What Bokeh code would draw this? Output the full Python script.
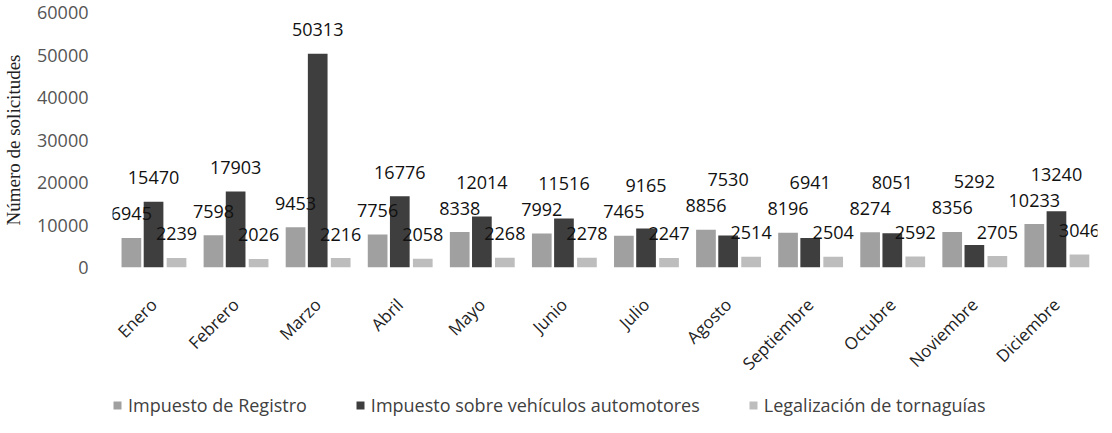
import math
from bokeh.plotting import figure
from bokeh.layouts import column
from bokeh.models import ColumnDataSource, FactorRange, Legend, LegendItem, LabelSet
from bokeh.core.properties import value
from bokeh.transform import dodge
from bokeh.embed import file_html
from bokeh.resources import INLINE

months = ["Enero", "Febrero", "Marzo", "Abril", "Mayo", "Junio", "Julio",
          "Agosto", "Septiembre", "Octubre", "Noviembre", "Diciembre"]
registro = [6945, 7598, 9453, 7756, 8338, 7992, 7465, 8856, 8196, 8274, 8356, 10233]
vehiculos = [15470, 17903, 50313, 16776, 12014, 11516, 9165, 7530, 6941, 8051, 5292, 13240]
tornaguias = [2239, 2026, 2216, 2058, 2268, 2278, 2247, 2514, 2504, 2592, 2705, 3046]
series_names = ["Impuesto de Registro", "Impuesto sobre vehículos automotores",
                "Legalización de tornaguías"]
y_ticks = [0, 10000, 20000, 30000, 40000, 50000, 60000]

Y_MAX = 60000
FRAME_H = 255
px = Y_MAX / FRAME_H  # data units per screen pixel

# label anchors: the middle series' labels are lifted so they clear the first series' labels
lab_vehiculos = [max(v, r + 26 * px) for v, r in zip(vehiculos, registro)]

src = ColumnDataSource(dict(
    months=months, registro=registro, vehiculos=vehiculos, tornaguias=tornaguias,
    y_registro=registro, y_vehiculos=lab_vehiculos, y_tornaguias=tornaguias,
    l_registro=[str(v) for v in registro],
    l_vehiculos=[str(v) for v in vehiculos],
    l_tornaguias=[str(v) for v in tornaguias],
))

p = figure(x_range=FactorRange(*months, range_padding=0), y_range=(0, Y_MAX),
           frame_width=985, frame_height=FRAME_H, output_backend="svg", toolbar_location=None,
           min_border_left=106, min_border_right=5, min_border_top=12,
           min_border_bottom=118, background_fill_color="white",
           border_fill_color="white")
p.outline_line_color = None
p.grid.visible = False

colors = ["#a0a0a0", "#3e3e3e", "#bdbdbd"]
fields = ["registro", "vehiculos", "tornaguias"]
offsets = [-0.27, 0.0, 0.28]
for f, c, o in zip(fields, colors, offsets):
    p.vbar(x=dodge("months", o, range=p.x_range), top=f, width=0.24,
           source=src, fill_color=c, line_color=None)
    lbl = LabelSet(x=dodge("months", o, range=p.x_range), y="y_" + f, text="l_" + f,
                   source=src, text_align="center", text_baseline="middle",
                   y_offset=24, text_font=value("Open Sans"), text_font_size="18px",
                   text_color="#111111")
    p.add_layout(lbl)

# axes
p.yaxis.ticker = y_ticks
p.yaxis.axis_line_color = None
p.yaxis.major_tick_line_color = None
p.yaxis.minor_tick_line_color = None
p.yaxis.major_label_text_font = "Open Sans"
p.yaxis.major_label_text_font_size = "18px"
p.yaxis.major_label_text_color = "#555555"
p.yaxis.major_label_standoff = 18
p.yaxis.axis_label = "Número de solicitudes"
p.yaxis.axis_label_text_font = "Liberation Serif"
p.yaxis.axis_label_text_font_style = "normal"
p.yaxis.axis_label_text_font_size = "19px"
p.yaxis.axis_label_text_color = "#222222"
p.yaxis.axis_label_standoff = 10

p.xaxis.axis_line_color = None
p.xaxis.major_tick_line_color = None
p.xaxis.minor_tick_line_color = None
p.xaxis.major_label_orientation = math.pi / 4
p.xaxis.major_label_text_font = "Open Sans"
p.xaxis.major_label_text_font_size = "17px"
p.xaxis.major_label_text_color = "#222222"
p.xaxis.major_label_standoff = 28

# legend in a thin strip below the chart (its frame aligns with the chart's frame)
lp = figure(width=1096, height=32, x_range=(0, 1), y_range=(0, 1),
            output_backend="svg", toolbar_location=None, min_border=0,
            background_fill_color="white", border_fill_color="white")
lp.axis.visible = False
lp.grid.visible = False
lp.outline_line_color = None
dummies = [lp.vbar(x=[0.5], top=[0], bottom=[0], width=0.1, fill_color=c, line_color=None)
           for c in colors]
legend = Legend(items=[LegendItem(label=n, renderers=[r]) for n, r in zip(series_names, dummies)],
                orientation="horizontal", location=(0, 0),
                label_text_font="Open Sans", label_text_font_size="18px",
                label_text_color="#404040", glyph_width=10, glyph_height=10,
                label_standoff=6, spacing=48, padding=0, margin=0,
                border_line_color=None, background_fill_alpha=0)
lp.add_layout(legend)

layout = column(p, lp, spacing=0)
open("out.html", "w").write(file_html(layout, INLINE))
